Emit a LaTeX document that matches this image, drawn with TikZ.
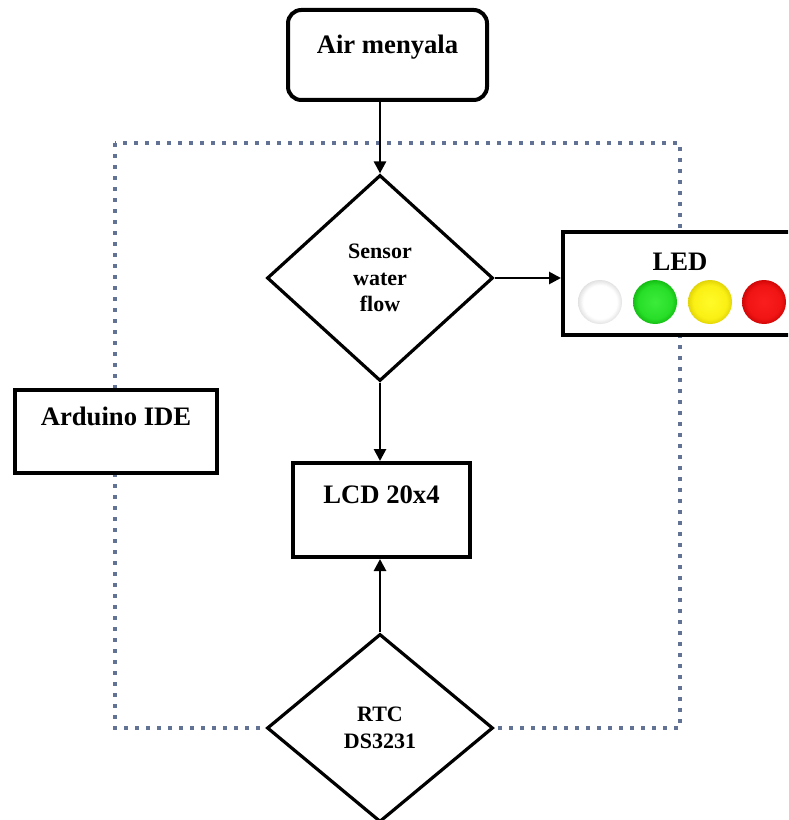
\documentclass[tikz,border=0pt]{standalone}
\usepackage{fontspec}
\setmainfont{Liberation Serif}
\usetikzlibrary{shapes.geometric,arrows.meta,calc}
\definecolor{framecol}{RGB}{98,114,148}
\pgfdeclareradialshading{whiteball}{\pgfpoint{0bp}{0bp}}{color(0bp)=(white); color(19bp)=(white); color(27bp)=(gray!30); color(33bp)=(gray!65); color(50bp)=(gray!65)}
\pgfdeclareradialshading{greenball}{\pgfpoint{0bp}{0bp}}{color(0bp)=(rgb,255:red,60;green,235;blue,60); color(19bp)=(rgb,255:red,40;green,222;blue,40); color(28bp)=(rgb,255:red,10;green,175;blue,10); color(33bp)=(rgb,255:red,0;green,120;blue,0); color(50bp)=(rgb,255:red,0;green,120;blue,0)}
\pgfdeclareradialshading{yellowball}{\pgfpoint{0bp}{0bp}}{color(0bp)=(rgb,255:red,255;green,250;blue,40); color(19bp)=(rgb,255:red,250;green,240;blue,20); color(28bp)=(rgb,255:red,215;green,200;blue,0); color(33bp)=(rgb,255:red,170;green,150;blue,0); color(50bp)=(rgb,255:red,170;green,150;blue,0)}
\pgfdeclareradialshading{redball}{\pgfpoint{0bp}{0bp}}{color(0bp)=(rgb,255:red,250;green,30;blue,30); color(19bp)=(rgb,255:red,240;green,20;blue,20); color(28bp)=(rgb,255:red,195;green,0;blue,0); color(33bp)=(rgb,255:red,140;green,0;blue,0); color(50bp)=(rgb,255:red,140;green,0;blue,0)}
\begin{document}
\begin{tikzpicture}[x=0.75pt,y=-0.75pt,
  box/.style={draw=black, line width=3pt, fill=white, inner sep=0pt,
    font=\fontsize{20}{24}\selectfont\bfseries},
  dia/.style={diamond, draw=black, line width=2.4pt, fill=white, inner sep=0pt,
    align=center, font=\fontsize{16.5}{20}\selectfont\bfseries},
  arr/.style={line width=2pt, -{Triangle[length=9pt,width=9pt]}},
  framestyle/.style={draw=framecol, line width=2.7pt, dash pattern=on 3pt off 5.25pt},
  lamp/.style={shading=#1}
]
\useasboundingbox (0,0) rectangle (788,820);
\clip (0,0) rectangle (788,820);
\fill[white] (0,0) rectangle (788,820);

% dotted frame
\draw[framestyle] (115,143) rectangle (680,728);

% nodes
\node[box, rounded corners=10pt, minimum width=149.25pt, text height=32.6pt, text depth=34.9pt] (air) at (387.5,55) {Air menyala};
\node[dia, minimum width=169.5pt, minimum height=154.5pt] (sensor) at (380,278) {Sensor\\water\\flow};
\node[box, minimum width=175.5pt, text height=28.9pt, text depth=48.4pt] (led) at (680,283.5) {LED};
\node[box, minimum width=151.5pt, text height=26.6pt, text depth=35.6pt] (ide) at (116,431.5) {Arduino IDE};
\node[box, minimum width=132.75pt, text height=30.4pt, text depth=40.1pt] (lcd) at (381.5,510) {LCD 20x4};
\node[dia, minimum width=169.5pt, minimum height=141pt] (rtc) at (380,728) {RTC\\DS3231};

% LED lamps
\shade[lamp=whiteball] (600,302) circle[radius=16.5pt];
\shade[lamp=greenball] (655,302) circle[radius=16.5pt];
\shade[lamp=yellowball] (710,302) circle[radius=16.5pt];
\shade[lamp=redball] (764,302) circle[radius=16.5pt];

% connectors
\draw[arr] (sensor.north |- air.south) -- (sensor.north);
\draw[arr] (sensor.east) -- (sensor.east -| led.west);
\draw[arr] (sensor.south) -- (sensor.south |- lcd.north);
\draw[arr] (rtc.north) -- (rtc.north |- lcd.south);
\end{tikzpicture}
\end{document}
